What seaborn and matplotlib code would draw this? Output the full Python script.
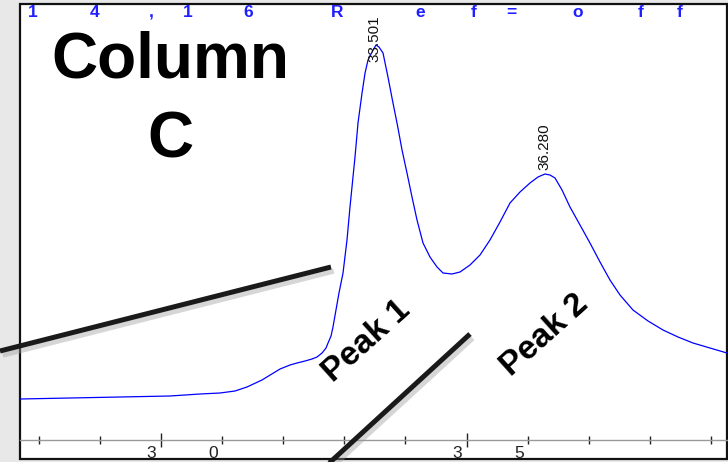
import matplotlib
matplotlib.use("Agg")
import matplotlib.pyplot as plt
import matplotlib.patheffects as pe
from matplotlib.patches import Rectangle
from matplotlib.lines import Line2D
from matplotlib.ticker import FixedLocator
import seaborn as sns
import pandas as pd

# ---------------- data ----------------
time_min = [27.698, 28.515, 29.333, 30.150, 30.641, 30.968, 31.213, 31.409, 31.654, 31.949,
            32.112, 32.227, 32.358, 32.472, 32.554, 32.636, 32.701, 32.734, 32.783, 32.815,
            32.913, 32.979, 33.044, 33.093, 33.175, 33.224, 33.290, 33.339, 33.388, 33.453,
            33.518, 33.567, 33.633, 33.714, 33.796, 33.862, 33.944, 34.025, 34.107, 34.189,
            34.287, 34.401, 34.516, 34.614, 34.761, 34.892, 35.055, 35.219, 35.382, 35.546,
            35.709, 35.873, 36.036, 36.167, 36.281, 36.363, 36.445, 36.560, 36.690, 36.854,
            37.017, 37.181, 37.344, 37.508, 37.720, 37.966, 38.211, 38.456, 38.701, 38.979,
            39.257]
signal = [41, 42, 43, 44, 46, 47, 49, 53, 60, 71,
          75, 77, 79, 81, 83, 87, 92, 97, 104, 113,
          147, 167, 200, 233, 283, 317, 347, 367, 380, 388,
          395, 393, 387, 363, 337, 317, 290, 267, 243, 220,
          197, 183, 173, 167, 166, 168, 175, 185, 200, 218,
          237, 248, 257, 263, 266, 265, 262, 250, 233, 215,
          197, 178, 160, 145, 130, 119, 110, 103, 97, 92,
          87]

peak_times = [33.501, 36.280]
peak_labels = ["33.501", "36.280"]
peak_label_base = [378, 270]

major_ticks = [30, 35]
minor_ticks = [28, 29, 31, 32, 33, 34, 36, 37, 38, 39]
tick_label_chars = [("3", "0"), ("3", "5")]

header_chars = ["1", "4", ",", "1", "6", "R", "e", "f", "=", "o", "f", "f"]
header_x_px = [32.5, 95, 151, 188, 248, 337, 420, 473.5, 511, 578, 641, 680]

title_lines = ["Column", "C"]
peak_names = ["Peak 1", "Peak 2"]

# ---------------- figure ----------------
sns.set_theme(style="white")
plt.rcParams["font.family"] = ["Liberation Sans", "DejaVu Sans"]

W, H = 728, 462
fig = plt.figure(figsize=(W / 100, H / 100), dpi=100, facecolor="#e8e8e8")

def fx(px):
    return px / W

def fy(py):
    return 1 - py / H

# white panel with black frame
fig.add_artist(Rectangle((fx(20), fy(459)), fx(707), (459 - 4) / H,
                         transform=fig.transFigure, facecolor="white",
                         edgecolor="#111111", lw=1.6, zorder=0))

ax = fig.add_axes([fx(20), fy(440), fx(707), (440 - 4) / H])
ax.set_facecolor("none")
df = pd.DataFrame({"time": time_min, "signal": signal})
sns.lineplot(data=df, x="time", y="signal", color="#0000ff", lw=0.9, ax=ax)

x0 = 28 + (20 - 38.5) / 61.16
x1 = 28 + (727 - 38.5) / 61.16
ax.set_xlim(x0, x1)
ax.set_ylim(0, 436)
ax.set_xlabel("")
ax.set_ylabel("")
ax.set_yticks([])
for s in ["left", "right", "top"]:
    ax.spines[s].set_visible(False)
ax.spines["bottom"].set_color("#9a9a9a")
ax.spines["bottom"].set_linewidth(1.0)
ax.xaxis.set_major_locator(FixedLocator(major_ticks))
ax.xaxis.set_minor_locator(FixedLocator(minor_ticks))
ax.tick_params(axis="x", which="major", direction="inout", length=10, width=1,
               color="#222222", labelbottom=False, bottom=True)
ax.tick_params(axis="x", which="minor", direction="inout", length=6, width=1,
               color="#222222", bottom=True)

# spaced tick labels (e.g. "3   0")
xt = ax.get_xaxis_transform()
for t, (c1, c2) in zip(major_ticks, tick_label_chars):
    ax.text(t - 0.16, -13 / 436, c1, transform=xt, ha="center", va="center",
            fontsize=12.5, color="#222222")
    ax.text(t + 0.86, -13 / 436, c2, transform=xt, ha="center", va="center",
            fontsize=12.5, color="#222222")

# peak retention time labels
for t, lab, yb in zip(peak_times, peak_labels, peak_label_base):
    ax.text(t, yb, lab, rotation=90, ha="center", va="bottom", fontsize=11,
            family=["Liberation Sans Narrow", "Liberation Sans"],
            fontstretch="condensed", color="#111111")

# header
for ch, px in zip(header_chars, header_x_px):
    fig.text(fx(px), fy(12.5), ch, ha="center", va="center", fontsize=12.5,
             fontweight="bold", color="#1f1fff")

# title
fig.text(fx(170), fy(78), title_lines[0], ha="center", va="baseline",
         fontsize=46, fontweight="bold", color="black")
fig.text(fx(170), fy(157), title_lines[1], ha="center", va="baseline",
         fontsize=46, fontweight="bold", color="black")

# peak names
fig.text(fx(367), fy(341), peak_names[0], ha="center", va="center", rotation=42,
         fontsize=24, fontweight="bold", color="black", rotation_mode="anchor")
fig.text(fx(545), fy(335), peak_names[1], ha="center", va="center", rotation=42,
         fontsize=24, fontweight="bold", color="black", rotation_mode="anchor")

# pointer lines with shadow
shadow = [pe.SimpleLineShadow(offset=(2, -3), shadow_color="#999999", alpha=0.4),
          pe.Normal()]
for (xa, ya), (xb, yb) in [((0, 351), (331, 267)), ((326, 466), (470, 334))]:
    ln = Line2D([fx(xa), fx(xb)], [fy(ya), fy(yb)], transform=fig.transFigure,
                color="#1a1a1a", lw=3.6, solid_capstyle="butt", zorder=5,
                path_effects=shadow)
    fig.add_artist(ln)

fig.savefig("out.png", dpi=100, facecolor=fig.get_facecolor())
